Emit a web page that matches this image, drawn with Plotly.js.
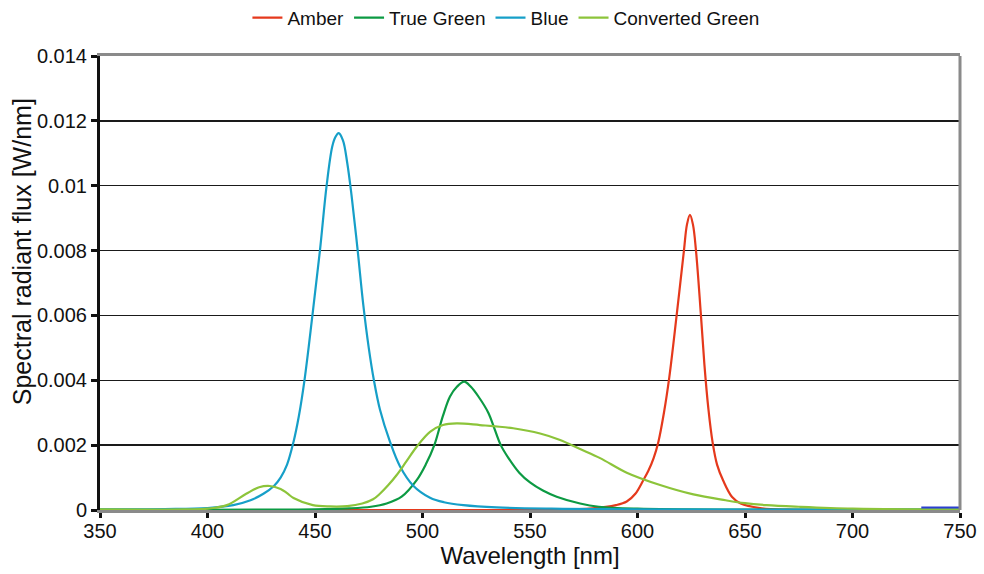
<!DOCTYPE html>
<html>
<head>
<meta charset="utf-8">
<script src="https://cdn.plot.ly/plotly-3.0.1.min.js"></script>
<style>html,body{margin:0;padding:0;background:#fff;}#chart{width:984px;height:574px;}</style>
</head>
<body>
<div id="chart"></div>
<script>
// Wavelength (nm) and spectral radiant flux (W/nm)
const amberX = [350, 500, 560, 579, 590, 595, 599, 602.7, 605, 607.5, 609.7, 612.3, 614.8, 618.2, 621.6, 623, 624.4, 625.8, 627.2, 629.4, 631.1, 633, 634.9, 637, 639.9, 644, 648, 657, 670, 750];
const amberY = [0, 0, 0.00001, 0.00005, 0.00015, 0.00026, 0.0005, 0.00092, 0.0012, 0.0016, 0.0021, 0.003, 0.0041, 0.006, 0.008, 0.0088, 0.0091, 0.0088, 0.008, 0.0061, 0.0045, 0.0031, 0.0021, 0.0014, 0.0009, 0.0004, 0.0002, 0.00006, 0.00001, 0];

const trueGreenX = [350, 450, 466, 476, 483.3, 490.3, 497.3, 501.5, 505.5, 509.5, 512.8, 516, 519.4, 522.5, 526, 530.6, 533.5, 536.4, 540, 545, 550, 556, 562.4, 573.3, 582, 600, 650, 750];
const trueGreenY = [0.00001, 0.00002, 0.00005, 0.0001, 0.0002, 0.00041, 0.00092, 0.0014, 0.002, 0.0029, 0.0035, 0.0038, 0.00396, 0.0038, 0.0035, 0.003, 0.0025, 0.002, 0.0016, 0.00115, 0.00085, 0.0006, 0.00041, 0.0002, 0.0001, 0.00004, 0.00001, 0.00001];

const blueX = [350, 380, 400, 412, 420, 426, 431, 434, 437, 440, 442.5, 445.1, 448.8, 452.3, 455.4, 458, 459.5, 461, 463, 465, 467, 469.7, 472.5, 475, 477.4, 480.2, 484.9, 489.5, 495.7, 503.5, 510, 519, 534.5, 560, 600, 750];
const blueY = [0.00002, 0.00003, 0.00006, 0.00015, 0.0003, 0.0005, 0.00075, 0.001, 0.0014, 0.0021, 0.0029, 0.004, 0.006, 0.008, 0.01, 0.0112, 0.0115, 0.01162, 0.0114, 0.0107, 0.0097, 0.0081, 0.0063, 0.005, 0.004, 0.0031, 0.0021, 0.00135, 0.00075, 0.00038, 0.00024, 0.00015, 0.00008, 0.00004, 0.00002, 0.00001];

const convGreenX = [350, 390, 400, 409, 418, 424, 429, 434, 437, 440, 449, 457, 465, 472, 477, 480.2, 484, 488, 492.5, 497.3, 503.5, 509.5, 515.9, 526.7, 542.2, 554.7, 564, 573.3, 582.6, 595, 610.5, 626, 641, 650, 660, 675, 700, 731, 750];
const convGreenY = [0.00002, 0.00002, 0.00004, 0.00015, 0.0005, 0.0007, 0.00074, 0.00065, 0.00052, 0.00037, 0.00015, 0.00011, 0.00012, 0.0002, 0.00033, 0.0005, 0.00076, 0.00108, 0.0015, 0.00195, 0.00241, 0.00262, 0.00267, 0.00262, 0.00252, 0.00236, 0.00216, 0.00188, 0.0016, 0.00115, 0.00077, 0.00048, 0.0003, 0.00021, 0.00015, 0.0001, 0.00004, 0.00002, 0.00002];

const extraX = [732, 740, 750];
const extraY = [0.00008, 0.00008, 0.00008];

const seriesNames = ['Amber', 'True Green', 'Blue', 'Converted Green'];
const seriesColors = ['#e5391c', '#0c9a43', '#169fc8', '#8cc43a'];

const xTicks = [350, 400, 450, 500, 550, 600, 650, 700, 750];
const yTicks = [0, 0.002, 0.004, 0.006, 0.008, 0.01, 0.012, 0.014];
const yTickText = ['0', '0.002', '0.004', '0.006', '0.008', '0.01', '0.012', '0.014'];

const xs = [amberX, trueGreenX, blueX, convGreenX];
const ys = [amberY, trueGreenY, blueY, convGreenY];

const traces = seriesNames.map((n, i) => ({
  x: xs[i], y: ys[i], name: n, type: 'scatter', mode: 'lines',
  line: {color: seriesColors[i], width: 2.2, shape: 'spline', smoothing: 1}
}));
traces.push({x: extraX, y: extraY, type: 'scatter', mode: 'lines', showlegend: false,
  line: {color: '#2a3fd0', width: 2}, hoverinfo: 'skip'});

const font = 'Liberation Sans, Arial, Helvetica, sans-serif';
const layout = {
  width: 984, height: 574,
  margin: {l: 100, r: 24, t: 56, b: 64, autoexpand: false},
  paper_bgcolor: '#fff', plot_bgcolor: '#fff',
  font: {family: font, color: '#111', size: 20},
  showlegend: true,
  legend: {orientation: 'h', x: 0.472, xanchor: 'center', y: 1.084, yanchor: 'middle',
    font: {family: font, size: 19, color: '#111'}, itemwidth: 30, tracegroupgap: 0},
  xaxis: {
    range: [350, 750], tickvals: xTicks, ticktext: xTicks.map(String),
    showgrid: false, zeroline: false,
    showline: true, linecolor: '#8a8a8a', linewidth: 3, mirror: true,
    ticks: 'outside', ticklen: 5, tickwidth: 3, tickcolor: '#111',
    tickfont: {size: 20}, ticklabelstandoff: -4,
    title: {text: 'Wavelength [nm]', font: {size: 24}, standoff: 2}
  },
  yaxis: {
    range: [0, 0.014], tickvals: yTicks, ticktext: yTickText,
    showgrid: true, gridcolor: '#1a1a1a', gridwidth: 1.5,
    zeroline: false,
    showline: true, linecolor: '#111', linewidth: 3,
    ticks: 'outside', ticklen: 6, tickwidth: 3, tickcolor: '#111',
    tickfont: {size: 20}
  },
  annotations: [
    {text: 'Spectral radiant flux [W/nm]', xref: 'paper', yref: 'paper',
     x: -0.0907, xanchor: 'center', y: 0.57, yanchor: 'middle', textangle: -90,
     showarrow: false, font: {family: font, size: 25, color: '#111'}}
  ],
  shapes: [
    {type: 'line', xref: 'paper', yref: 'paper', x0: 1, x1: 1, y0: 0, y1: 1,
     line: {color: '#8a8a8a', width: 3}}
  ]
};

Plotly.newPlot('chart', traces, layout, {staticPlot: true, displayModeBar: false});
</script>
</body>
</html>
